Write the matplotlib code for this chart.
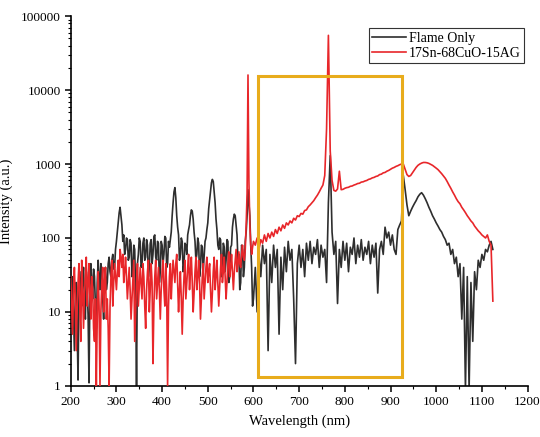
import numpy as np
import matplotlib
matplotlib.use("Agg")
import matplotlib.pyplot as plt
from matplotlib.patches import Rectangle
from matplotlib.ticker import LogLocator, MultipleLocator, NullFormatter

# wavelength grid (nm): 2 nm sampling up to 600 nm, 4 nm beyond
wavelength = np.concatenate([np.arange(200, 601, 2), np.arange(604, 1125, 4)])

flame_only = [
    # 200-300 (2 nm)
    8, 18, 30, 10, 3, 14, 25, 6, 1.2, 20, 35, 18, 12, 28, 40, 15, 8, 35, 22, 9, 1.1, 20, 45, 25, 15, 38,
    30, 12, 6, 25, 50, 30, 20, 45, 35, 15, 8, 30, 40, 20, 25, 45, 55, 35, 30, 50, 60, 38, 40, 70, 90,
    # 302-400
    120, 160, 220, 260, 200, 150, 90, 110, 60, 70, 100, 95, 50, 55, 95, 85, 30, 40, 80, 70, 20, 1.0, 45, 60, 100,
    90, 40, 45, 85, 100, 50, 55, 95, 80, 30, 40, 85, 95, 45, 60, 105, 110, 55, 50, 90, 85, 25, 35, 90, 80,
    # 402-500
    45, 60, 105, 100, 40, 45, 90, 75, 95, 120, 200, 300, 420, 480, 350, 200, 140, 110, 50, 60, 100, 90, 35, 45, 85,
    80, 60, 110, 130, 150, 200, 240, 230, 180, 120, 90, 50, 60, 100, 85, 30, 40, 80, 75, 35, 55, 90, 100, 130, 160,
    # 502-600
    250, 330, 450, 560, 620, 580, 420, 300, 180, 130, 80, 70, 100, 95, 30, 40, 85, 75, 35, 50, 95, 90, 25, 30, 75,
    80, 140, 180, 210, 200, 150, 110, 50, 60, 20, 25, 80, 70, 30, 40, 90, 120, 200, 450, 300, 200, 80, 40, 12, 15,
    # 604-700 (4 nm)
    40, 10, 60, 30, 80, 45, 70, 3, 60, 25, 80, 40, 70, 5, 55, 20, 75, 35, 90, 50, 70, 15, 2, 45, 80,
    # 704-800
    40, 70, 30, 85, 50, 90, 45, 75, 60, 95, 40, 80, 55, 70, 25, 300, 1300, 120, 60, 90, 13, 70, 40, 90, 50,
    # 804-900
    85, 35, 75, 60, 100, 45, 80, 55, 95, 50, 75, 60, 90, 45, 80, 55, 85, 18, 70, 90, 60, 140, 100, 120, 80,
    # 904-1000
    110, 70, 60, 130, 150, 170, 700, 450, 280, 200, 230, 260, 290, 320, 360, 390, 410, 380, 340, 300, 260, 230, 200, 180, 160,
    # 1004-1124
    145, 130, 120, 105, 95, 80, 85, 60, 70, 45, 55, 30, 45, 8, 40, 0.9, 30, 0.9, 25, 4, 35, 20, 50, 40, 60,
    50, 70, 65, 80, 90, 70,
]

sample_17sn = [
    # 200-300 (2 nm)
    30, 12, 5, 20, 40, 15, 3, 12, 25, 45, 10, 4, 50, 20, 6, 18, 30, 55, 12, 25, 45, 15, 8, 30, 20, 6,
    4, 15, 1.0, 8, 35, 12, 1.0, 10, 25, 40, 10, 25, 40, 8, 15, 6, 1.0, 12, 30, 50, 12, 25, 45, 30, 20,
    # 302-400
    35, 50, 30, 70, 55, 40, 60, 25, 35, 55, 30, 15, 25, 40, 20, 8, 15, 30, 50, 4, 10, 25, 45, 12, 22,
    40, 25, 15, 45, 30, 12, 6, 20, 35, 50, 10, 20, 45, 25, 2, 12, 30, 50, 15, 25, 40, 20, 8, 20, 35,
    # 402-500
    50, 20, 12, 45, 20, 1.0, 12, 30, 45, 15, 30, 50, 35, 25, 45, 60, 25, 10, 20, 35, 15, 5, 15, 30, 50,
    15, 25, 40, 60, 20, 35, 55, 25, 10, 18, 35, 55, 20, 30, 50, 25, 8, 15, 30, 45, 15, 25, 40, 55, 25,
    # 502-600
    35, 45, 20, 10, 18, 35, 55, 20, 30, 50, 25, 12, 22, 40, 60, 25, 35, 55, 30, 15, 25, 45, 65, 30, 40,
    60, 35, 20, 35, 50, 70, 35, 45, 65, 45, 40, 60, 80, 55, 50, 70, 150, 400, 16000, 600, 150, 80, 60, 75, 90,
    # 604-700 (4 nm)
    80, 100, 70, 95, 85, 110, 90, 115, 100, 120, 105, 130, 115, 140, 125, 150, 135, 160, 150, 170, 160, 185, 175, 200, 195,
    # 704-800
    215, 210, 235, 240, 265, 280, 300, 320, 350, 380, 420, 470, 520, 700, 3000, 55000, 1500, 600, 440, 430, 460, 800, 450, 455, 470,
    # 804-900
    480, 485, 500, 505, 520, 530, 545, 550, 570, 575, 590, 600, 620, 630, 650, 660, 680, 690, 720, 730, 760, 770, 800, 820, 850,
    # 904-1000
    880, 900, 930, 950, 980, 1000, 1000, 850, 720, 680, 700, 760, 830, 900, 960, 1000, 1030, 1050, 1050, 1040, 1020, 990, 960, 920, 880,
    # 1004-1124
    840, 790, 740, 690, 640, 580, 520, 470, 420, 380, 340, 310, 290, 260, 240, 220, 200, 185, 170, 160, 145, 135, 125, 118, 110,
    105, 100, 110, 90, 80, 14,
]

assert len(flame_only) == len(wavelength), (len(flame_only), len(wavelength))
assert len(sample_17sn) == len(wavelength), (len(sample_17sn), len(wavelength))

series_labels = ["Flame Only", "17Sn-68CuO-15AG"]
x_ticks = [200, 300, 400, 500, 600, 700, 800, 900, 1000, 1100, 1200]
y_ticks = [1, 10, 100, 1000, 10000, 100000]
y_tick_labels = ["1", "10", "100", "1000", "10000", "100000"]
highlight_x = [610, 925]
highlight_y = [1.3, 15500]

plt.rcParams["font.family"] = ["Liberation Serif", "DejaVu Serif"]

fig = plt.figure(figsize=(5.40, 4.37), dpi=100)
ax = fig.add_axes([0.131, 0.117, 0.846, 0.846])

ax.plot(wavelength, flame_only, color="#2e2e2e", lw=1.2, label=series_labels[0], zorder=2)
ax.plot(wavelength, sample_17sn, color="#e8262a", lw=1.2, label=series_labels[1], zorder=3)

ax.add_patch(Rectangle((highlight_x[0], highlight_y[0]), highlight_x[1] - highlight_x[0],
                       highlight_y[1] - highlight_y[0], fill=False, edgecolor="#e8ac1c",
                       lw=2.2, zorder=4))

ax.set_yscale("log")
ax.set_xlim(200, 1200)
ax.set_ylim(1, 100000)
ax.set_xticks(x_ticks)
ax.set_xticklabels([str(v) for v in x_ticks])
ax.xaxis.set_minor_locator(MultipleLocator(50))
ax.set_yticks(y_ticks)
ax.set_yticklabels(y_tick_labels)
ax.yaxis.set_minor_locator(LogLocator(base=10, subs=np.arange(2, 10)))
ax.yaxis.set_minor_formatter(NullFormatter())

for s in ["top", "right"]:
    ax.spines[s].set_visible(False)
for s in ["left", "bottom"]:
    ax.spines[s].set_linewidth(1.2)

ax.tick_params(axis="both", which="major", direction="out", length=4, width=1.1, labelsize=9.5, pad=3)
ax.tick_params(axis="both", which="minor", direction="out", length=2.5, width=0.8)

ax.set_xlabel("Wavelength (nm)", fontsize=10.5, labelpad=5)
ax.set_ylabel("Intensity (a.u.)", fontsize=10.5, labelpad=6)

leg = ax.legend(loc="upper right", bbox_to_anchor=(0.998, 0.975), fontsize=10, frameon=True,
                fancybox=False, edgecolor="#333333", framealpha=1, handlelength=2.4,
                handletextpad=0.2, borderpad=0.25, labelspacing=0.15, borderaxespad=0.2)
leg.get_frame().set_linewidth(0.8)

fig.savefig("out.png", dpi=100)
